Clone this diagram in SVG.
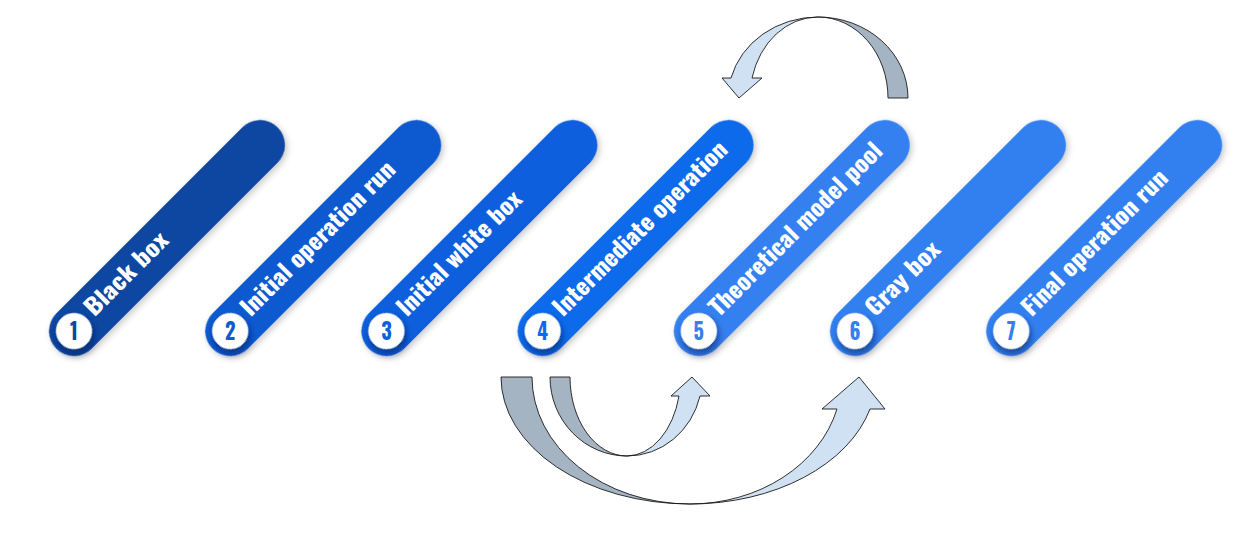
<svg xmlns="http://www.w3.org/2000/svg" width="1257" height="535" viewBox="0 0 1257 535">
<defs>
<style>
.pill{filter:url(#ps)}
.num{fill:#fff;filter:url(#cs)}
.lbl{font-family:"Oswald","Liberation Sans Narrow","DejaVu Sans Condensed","Roboto",sans-serif;font-weight:bold;font-size:23px;fill:#fff;font-stretch:condensed}
.nt{font-family:"Oswald","Liberation Sans Narrow","DejaVu Sans Condensed","Roboto",sans-serif;font-weight:bold;font-size:24px;text-anchor:middle;font-stretch:condensed}
.back{fill:#A5B4C3;stroke:#1a1a1a;stroke-width:0.9;stroke-linejoin:round}
.front{fill:#CFE1F3;stroke:#1a1a1a;stroke-width:0.9;stroke-linejoin:round}
</style>
<filter id="ps" x="-20%" y="-20%" width="140%" height="140%">
<feDropShadow dx="0" dy="3" stdDeviation="3" flood-color="#000" flood-opacity="0.22"/>
</filter>
<filter id="cs" x="-60%" y="-60%" width="220%" height="220%">
<feDropShadow dx="-2" dy="4" stdDeviation="3.5" flood-color="#001040" flood-opacity="0.6"/>
</filter>
</defs>
<g id="node1" transform="translate(74,331) rotate(-45)">
<rect class="pill" x="-25" y="-25" width="313" height="50" rx="25" fill="#0C47A1"/>
<circle class="num" cx="0" cy="0" r="18"/>
<text class="nt" x="0" y="0" transform="rotate(45) scale(0.85,1)" dy="8.5" fill="#0C47A1">1</text>
<text class="lbl" x="24" y="5" textLength="107" lengthAdjust="spacingAndGlyphs">Black box</text>
</g>
<g id="node2" transform="translate(230.2,331) rotate(-45)">
<rect class="pill" x="-25" y="-25" width="313" height="50" rx="25" fill="#0F5AD0"/>
<circle class="num" cx="0" cy="0" r="18"/>
<text class="nt" x="0" y="0" transform="rotate(45) scale(0.85,1)" dy="8.5" fill="#0F5AD0">2</text>
<text class="lbl" x="24" y="5" textLength="207" lengthAdjust="spacingAndGlyphs">Initial operation run</text>
</g>
<g id="node3" transform="translate(386.4,331) rotate(-45)">
<rect class="pill" x="-25" y="-25" width="313" height="50" rx="25" fill="#0E5FDD"/>
<circle class="num" cx="0" cy="0" r="18"/>
<text class="nt" x="0" y="0" transform="rotate(45) scale(0.85,1)" dy="8.5" fill="#0E5FDD">3</text>
<text class="lbl" x="24" y="5" textLength="165" lengthAdjust="spacingAndGlyphs">Initial white box</text>
</g>
<g id="node4" transform="translate(542.6,331) rotate(-45)">
<rect class="pill" x="-25" y="-25" width="313" height="50" rx="25" fill="#0E6AEA"/>
<circle class="num" cx="0" cy="0" r="18"/>
<text class="nt" x="0" y="0" transform="rotate(45) scale(0.85,1)" dy="8.5" fill="#0E6AEA">4</text>
<text class="lbl" x="24" y="5" textLength="235" lengthAdjust="spacingAndGlyphs">Intermediate operation</text>
</g>
<g id="node5" transform="translate(698.8,331) rotate(-45)">
<rect class="pill" x="-25" y="-25" width="313" height="50" rx="25" fill="#3480F0"/>
<circle class="num" cx="0" cy="0" r="18"/>
<text class="nt" x="0" y="0" transform="rotate(45) scale(0.85,1)" dy="8.5" fill="#3480F0">5</text>
<text class="lbl" x="24" y="5" textLength="233" lengthAdjust="spacingAndGlyphs">Theoretical model pool</text>
</g>
<g id="node6" transform="translate(855,331) rotate(-45)">
<rect class="pill" x="-25" y="-25" width="313" height="50" rx="25" fill="#3380F0"/>
<circle class="num" cx="0" cy="0" r="18"/>
<text class="nt" x="0" y="0" transform="rotate(45) scale(0.85,1)" dy="8.5" fill="#3380F0">6</text>
<text class="lbl" x="24" y="5" textLength="94" lengthAdjust="spacingAndGlyphs">Gray box</text>
</g>
<g id="node7" transform="translate(1011.2,331) rotate(-45)">
<rect class="pill" x="-25" y="-25" width="313" height="50" rx="25" fill="#3380F0"/>
<circle class="num" cx="0" cy="0" r="18"/>
<text class="nt" x="0" y="0" transform="rotate(45) scale(0.85,1)" dy="8.5" fill="#3380F0">7</text>
<text class="lbl" x="24" y="5" textLength="195" lengthAdjust="spacingAndGlyphs">Final operation run</text>
</g>
<g id="connectors">
<g id="arrow-top">
<path class="back" d="M 908 98 A 90 81 0 0 0 818 17 A 70 81 0 0 1 888 98 Z"/>
<path class="front" d="M 818 17 A 90 81 0 0 0 731 78 L 722 78 L 739 98 L 762 78 L 752 78 A 68 81 0 0 1 818 17 Z"/>
</g>
<g id="arrow-small">
<path class="back" d="M 550 377 A 77 79 0 0 0 627 456 A 57 79 0 0 1 570 377 Z"/>
<path class="front" d="M 627 456 A 75 79 0 0 0 700 396 L 710 396 L 692 377 L 671 396 L 679 396 A 54 79 0 0 1 627 456 Z"/>
</g>
<g id="arrow-large">
<path class="back" d="M 501 377 A 189 127 0 0 0 690 504 A 158 127 0 0 1 532 377 Z"/>
<path class="front" d="M 690 504 A 186 127 0 0 0 870 409 L 885 409 L 859 377 L 822 409 L 837 409 A 152 127 0 0 1 690 504 Z"/>
</g>
</g>
</svg>
